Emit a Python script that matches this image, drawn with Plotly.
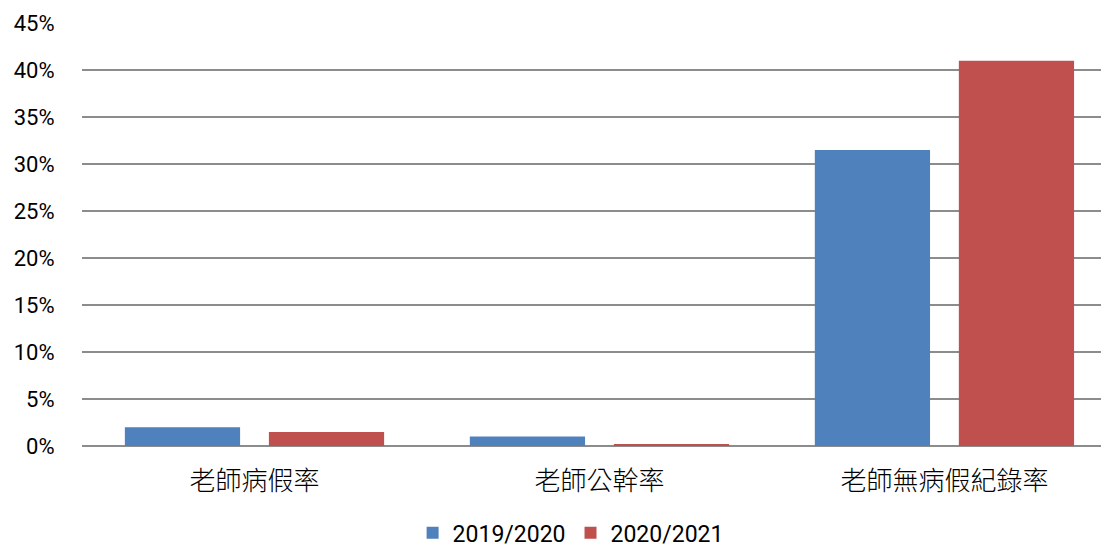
import plotly.graph_objects as go

categories = ["老師病假率", "老師公幹率", "老師無病假紀錄率"]
series_names = ["2019/2020", "2020/2021"]
values_2019 = [0.020, 0.010, 0.315]
values_2020 = [0.015, 0.002, 0.410]
colors = ["#4F81BD", "#C0504D"]

fig = go.Figure()
for name, vals, col in zip(series_names, [values_2019, values_2020], colors):
    fig.add_trace(go.Bar(x=categories, y=vals, name=name,
                         marker=dict(color=col, line=dict(width=0))))

fig.update_layout(
    width=1101, height=541,
    margin=dict(l=74, r=0, t=15, b=103),
    paper_bgcolor="white", plot_bgcolor="white",
    barmode="group", bargap=0.165, bargroupgap=0.2,
    font=dict(family="Roboto, Noto Sans CJK TC", size=22, color="#000000"),
    showlegend=True,
    legend=dict(orientation="h", xref="container", yref="container",
                x=0.511, y=0.03, xanchor="center", yanchor="middle",
                font=dict(size=23), itemwidth=30, traceorder="normal",
                tracegroupgap=0, borderwidth=0),
    xaxis=dict(showgrid=False, ticks="outside", ticklen=12, tickcolor="rgba(0,0,0,0)",
               tickfont=dict(family="Noto Sans CJK TC", size=26, weight=300),
               showline=False, range=[-0.5, 2.477]),
    yaxis=dict(range=[0, 0.4502], dtick=0.05, tickformat=".0%",
               showgrid=True, gridcolor="#8C8C8C", gridwidth=1.5,
               zeroline=True, zerolinecolor="#8C8C8C", zerolinewidth=1.5,
               ticks="outside", ticklen=22, tickcolor="rgba(0,0,0,0)",
               tickfont=dict(size=22)),
)

fig.write_html("out.html")
